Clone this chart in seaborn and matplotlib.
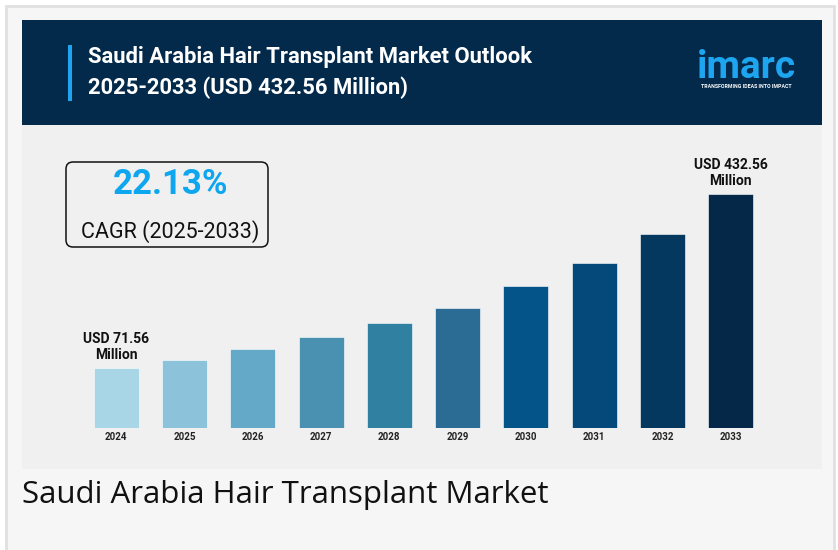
import numpy as np
import pandas as pd
import matplotlib
matplotlib.use("Agg")
import matplotlib.pyplot as plt
from matplotlib.patches import Rectangle, FancyBboxPatch
import seaborn as sns

sns.set_theme(style="white")
plt.rcParams['font.family'] = ['Roboto', 'DejaVu Sans']

# data (USD million)
years = ["2024", "2025", "2026", "2027", "2028", "2029", "2030", "2031", "2032", "2033"]
market_value = [71.56, 88.2, 111.6, 136.5, 164.9, 196.7, 242.3, 288.6, 349.6, 432.56]
bar_colors = ["#a9d6e6", "#8cc3da", "#64a9c7", "#4a91b1", "#2f80a1", "#2a6c94",
              "#04548a", "#05497a", "#05385f", "#052849"]
first_label = "USD 71.56\nMillion"
last_label = "USD 432.56\nMillion"
cagr_text = "22.13%"
cagr_period = "CAGR (2025-2033)"
title_lines = ["Saudi Arabia Hair Transplant Market Outlook", "2025-2033 (USD 432.56 Million)"]
caption = "Saudi Arabia Hair Transplant Market"

# the infographic bars do not start at zero, baseline sits ~53 below
BASE_OFFSET = 52.9

W, H = 838, 550
fig = plt.figure(figsize=(W / 100, H / 100), dpi=100)
fig.patch.set_facecolor("white")

# background layer in pixel coordinates
bg = fig.add_axes([0, 0, 1, 1], zorder=0)
bg.set_xlim(0, W)
bg.set_ylim(H, 0)
bg.axis("off")
bg.add_patch(Rectangle((6, 6), 828, 550, facecolor="#f6f6f6", edgecolor="#e0e0e0", lw=2))
bg.add_patch(Rectangle((22, 20), 800, 449, facecolor="#f0f0f0", edgecolor="none"))
bg.add_patch(Rectangle((22, 20), 800, 105, facecolor="#032a4b", edgecolor="none"))
bg.add_patch(Rectangle((68, 45), 3.5, 56, facecolor="#1ea5ef", edgecolor="none"))

bg.text(88, 57, title_lines[0], color="white", fontsize=15.8, fontweight="bold", va="center", ha="left")
bg.text(88, 88, title_lines[1], color="white", fontsize=15.8, fontweight="bold", va="center", ha="left")

# logo
bg.text(746, 78, "imarc", color="#1ea5ef", fontsize=28, fontweight="bold", va="baseline", ha="center")
bg.text(746, 87, "TRANSFORMING IDEAS INTO IMPACT", color="white", fontsize=3.8, fontweight="bold",
        va="center", ha="center")

# CAGR box
bg.add_patch(FancyBboxPatch((66, 162), 202, 85, boxstyle="round,pad=0,rounding_size=7",
                            facecolor="#f0f0f0", edgecolor="#111111", lw=1.1))
bg.text(170, 185, cagr_text, color="#0ea6ef", fontsize=25, fontweight="bold", va="center", ha="center")
bg.text(170, 232, cagr_period, color="#111111", fontsize=15.5, va="center", ha="center")

bg.text(22, 495, caption, color="#111111", fontsize=22.5, va="center", ha="left",
        family=["Open Sans", "DejaVu Sans"])

# bar chart
ax = fig.add_axes([82 / W, 1 - 428 / H, 683 / W, 278 / H], zorder=2)
ax.patch.set_alpha(0)
df = pd.DataFrame({"year": years, "value": market_value})
df["shown"] = df["value"] + BASE_OFFSET
sns.barplot(data=df, x="year", y="shown", hue="year", palette=bar_colors, legend=False,
            width=0.66, saturation=1, ax=ax, edgecolor="#ffffff", linewidth=0.4)
ax.set_ylim(0, 278 / 0.482)
ax.set_xlim(-0.5, len(years) - 0.5)
ax.set_xlabel("")
ax.set_ylabel("")
ax.set_yticks([])
sns.despine(ax=ax, left=True, bottom=True)
ax.tick_params(axis="x", length=0, pad=3)
for lab in ax.get_xticklabels():
    lab.set_fontsize(7)
    lab.set_fontweight("bold")
    lab.set_color("#222222")

ax.text(0, df["shown"].iloc[0] + 12, first_label, ha="center", va="bottom", fontsize=10,
        fontweight="bold", color="#111111", linespacing=1.2)
ax.text(len(years) - 1, df["shown"].iloc[-1] + 12, last_label, ha="center", va="bottom", fontsize=10,
        fontweight="bold", color="#111111", linespacing=1.2)

fig.savefig("out.png", dpi=100)
